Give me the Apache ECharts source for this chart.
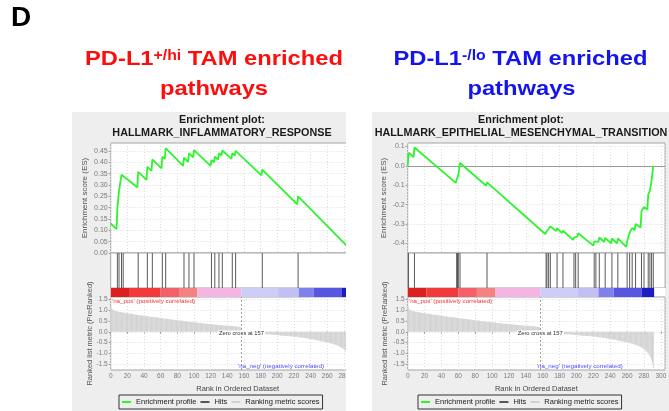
<!DOCTYPE html>
<html><head><meta charset="utf-8">
<script src="https://cdn.jsdelivr.net/npm/echarts@6/dist/echarts.min.js"></script>
<style>
html,body{margin:0;padding:0;background:#fff;width:669px;height:411px;overflow:hidden;}
#top{position:absolute;left:0;top:0;width:669px;height:112px;}
#leftWrap{position:absolute;left:72px;top:112px;width:274px;height:299px;overflow:hidden;}
#left{position:absolute;left:0;top:0;width:300px;height:299px;}
#right{position:absolute;left:372px;top:112px;width:297px;height:299px;}
</style></head><body>
<div id="top"></div><div id="leftWrap"><div id="left"></div></div><div id="right"></div>
<script>
const FONT = '"Liberation Sans", Arial, sans-serif';

// ---------- data ----------
const rankMax = 305;
const zeroCross = 157;
const metricScores = [
 1.18,1.08,1.03,1.00,0.98,0.96,0.95,0.94,0.93,0.92,
 0.91,0.90,0.90,0.89,0.88,0.88,0.87,0.87,0.86,0.85,
 0.85,0.84,0.83,0.83,0.82,0.82,0.81,0.80,0.80,0.79,
 0.78,0.78,0.77,0.77,0.76,0.75,0.75,0.74,0.74,0.73,
 0.73,0.72,0.72,0.71,0.71,0.70,0.70,0.69,0.69,0.68,
 0.68,0.67,0.67,0.66,0.66,0.65,0.65,0.64,0.64,0.63,
 0.63,0.62,0.62,0.61,0.61,0.60,0.60,0.59,0.59,0.58,
 0.58,0.57,0.57,0.56,0.56,0.55,0.55,0.54,0.54,0.53,
 0.53,0.52,0.52,0.51,0.51,0.50,0.50,0.49,0.49,0.48,
 0.48,0.47,0.47,0.46,0.46,0.45,0.45,0.44,0.44,0.44,
 0.43,0.43,0.42,0.42,0.41,0.41,0.40,0.40,0.40,0.39,
 0.39,0.38,0.38,0.37,0.37,0.37,0.36,0.36,0.35,0.35,
 0.35,0.34,0.34,0.33,0.33,0.33,0.32,0.32,0.32,0.31,
 0.31,0.31,0.30,0.30,0.30,0.29,0.29,0.29,0.28,0.28,
 0.28,0.27,0.27,0.27,0.26,0.26,0.26,0.25,0.25,0.25,
 0.24,0.24,0.24,0.23,0.23,0.22,0.22,
 -0.02,-0.02,-0.03,-0.03,-0.03,-0.04,-0.04,-0.04,-0.05,-0.05,
 -0.05,-0.06,-0.06,-0.06,-0.07,-0.07,-0.07,-0.07,-0.08,-0.08,
 -0.08,-0.08,-0.09,-0.09,-0.09,-0.09,-0.10,-0.10,-0.10,-0.11,
 -0.11,-0.11,-0.12,-0.12,-0.12,-0.13,-0.13,-0.13,-0.14,-0.14,
 -0.14,-0.15,-0.15,-0.15,-0.16,-0.16,-0.16,-0.17,-0.17,-0.17,
 -0.18,-0.18,-0.18,-0.19,-0.19,-0.19,-0.20,-0.20,-0.20,-0.21,
 -0.21,-0.21,-0.22,-0.22,-0.22,-0.23,-0.23,-0.23,-0.24,-0.24,
 -0.25,-0.25,-0.26,-0.26,-0.27,-0.28,-0.28,-0.29,-0.30,-0.30,
 -0.31,-0.32,-0.32,-0.33,-0.34,-0.34,-0.35,-0.36,-0.37,-0.37,
 -0.38,-0.39,-0.40,-0.40,-0.41,-0.42,-0.43,-0.44,-0.45,-0.46,
 -0.46,-0.47,-0.48,-0.49,-0.50,-0.51,-0.52,-0.53,-0.54,-0.55,
 -0.56,-0.57,-0.59,-0.60,-0.61,-0.63,-0.64,-0.66,-0.68,-0.70,
 -0.72,-0.74,-0.77,-0.80,-0.83,-0.86,-0.90,-0.94,-0.99,-1.04,
 -1.10,-1.18,-1.28,-1.42,-1.65
];
const bandStarts = [0,22,60,82,104,157,201,226,244,277];
const bandEnds   = [22,60,82,104,157,201,226,244,277,292];
const bandColors = ['#dc2020','#f23a3a','#f4606a','#f48282','#f5b5e2','#cdcef7','#c0c0f4','#8080ec','#5656e2','#1c1cc4'];

const leftHits = [8,10,13,15,33,44,50,62,66,88,94,100,121,125,130,134,146,150,182,225];
const leftES = [
 [0,0.13],[7,0.105],[8,0.195],[9,0.19],[10,0.275],[12,0.27],[13,0.345],[14,0.342],[15,0.352],
 [32,0.29],[33,0.358],[43,0.322],[44,0.38],[49,0.362],[50,0.413],
 [61,0.373],[62,0.425],[65,0.415],[66,0.462],
 [87,0.384],[88,0.42],[93,0.402],[94,0.44],[99,0.422],[100,0.454],
 [120,0.384],[121,0.41],[124,0.40],[125,0.425],[129,0.412],[130,0.44],[133,0.43],[134,0.452],
 [145,0.415],[146,0.44],[149,0.43],[150,0.45],
 [181,0.342],[182,0.368],[224,0.214],[225,0.25],[291,0.004]
];
const leftESTicks = [0,0.05,0.10,0.15,0.20,0.25,0.30,0.35,0.40,0.45];

const rightHits = [1,8,58,59,60,62,94,164,165,167,169,177,184,197,199,202,221,223,227,234,242,249,260,263,266,270,277,280,285,287,289,291];
const rightES = [
 [0,0.0],[1,0.068],[7,0.046],[8,0.095],
 [57,-0.088],[58,-0.072],[59,-0.06],[60,-0.045],[61,-0.048],[62,0.015],
 [93,-0.103],[94,-0.085],
 [163,-0.352],[164,-0.342],[165,-0.336],[166,-0.34],[167,-0.325],[168,-0.328],[169,-0.313],
 [176,-0.336],[177,-0.322],[183,-0.347],[184,-0.335],
 [196,-0.382],[197,-0.37],[198,-0.373],[199,-0.36],[201,-0.366],[202,-0.348],
 [220,-0.412],[221,-0.39],[222,-0.394],[223,-0.382],[226,-0.393],[227,-0.37],
 [233,-0.393],[234,-0.372],[241,-0.4],[242,-0.375],[248,-0.4],[249,-0.375],
 [259,-0.418],[260,-0.39],[262,-0.398],[263,-0.345],[265,-0.352],[266,-0.32],[269,-0.332],[270,-0.3],
 [276,-0.318],[277,-0.235],[279,-0.242],[280,-0.212],
 [284,-0.226],[285,-0.148],[286,-0.152],[287,-0.128],[288,-0.132],[289,-0.075],[290,-0.078],[291,0.0]
];
const rightESTicks = [-0.4,-0.3,-0.2,-0.1,0,0.1];
const metricTicks = [-1.5,-1.0,-0.5,0,0.5,1.0,1.5];

// ---------- panel builder ----------
function buildPanel(cfg) {
  const X0 = cfg.gridLeft, W = cfg.gridWidth;
  const gb = {show:true, backgroundColor:'#fff', borderColor:'#a3a3a3', borderWidth:1, outerBoundsMode:'none', containLabel:false};
  const grid = [
    Object.assign({left:X0, top:31, width:W, height:110}, gb),
    Object.assign({left:X0, top:141, width:W, height:35}, gb),
    Object.assign({left:X0, top:176, width:W, height:9}, gb, {borderWidth:0}),
    Object.assign({left:X0, top:185, width:W, height:73}, gb)
  ];
  const tickLabel = {fontSize:7, color:'#7a7a7a', fontFamily:FONT};
  const dotted = {color:'#dcdcdc', type:[1,2], width:1};
  const xAxis = [0,1,2,3].map(i => ({
    type:'value', gridIndex:i, min:0, max:rankMax, interval:20,
    axisLine:{show:false},
    axisTick:{show:i===3, length:2, lineStyle:{color:'#999'}},
    axisLabel:Object.assign({show:i===3, margin:3, showMaxLabel:false}, tickLabel, {fontSize:6.5}),
    splitLine:{show:i===0||i===3, lineStyle:dotted},
    name: i===3 ? 'Rank in Ordered Dataset' : '',
    nameLocation:'middle', nameGap:15, nameMoveOverlap:false,
    nameTextStyle:{fontSize:7.5, color:'#444', fontFamily:FONT}
  }));
  const yAxis = [
    {type:'value', gridIndex:0, min:cfg.esMin, max:cfg.esMax, axisLine:{show:false}, splitLine:{show:false},
     axisTick:{show:true, length:2, customValues:cfg.esTicks, lineStyle:{color:'#999'}},
     axisLabel:Object.assign({customValues:cfg.esTicks, margin:3, formatter:v=>Number(v).toFixed(cfg.esDigits)}, tickLabel),
     name:'Enrichment score (ES)', nameLocation:'middle', nameGap:cfg.esNameGap, nameRotate:90, nameMoveOverlap:false,
     nameTextStyle:{fontSize:8, color:'#555', fontFamily:FONT}},
    {type:'value', gridIndex:1, min:0, max:1, show:false},
    {type:'value', gridIndex:2, min:0, max:1, show:false},
    {type:'value', gridIndex:3, min:-1.75, max:1.59, axisLine:{show:false}, splitLine:{show:false},
     axisTick:{show:true, length:2, customValues:metricTicks, lineStyle:{color:'#999'}},
     axisLabel:Object.assign({customValues:metricTicks, margin:3, formatter:v=>Number(v).toFixed(1)}, tickLabel, {fontSize:6.5}),
     name:'Ranked list metric (PreRanked)', nameLocation:'middle', nameGap:cfg.metricNameGap, nameRotate:90, nameMoveOverlap:false,
     nameTextStyle:{fontSize:7.5, color:'#555', fontFamily:FONT}}
  ];
  const esLines = cfg.esTicks.map(v => ({yAxis:v, lineStyle:dotted}));
  if (cfg.zeroLine) esLines.push({yAxis:0, lineStyle:{color:'#9a9a9a', type:'solid', width:1}});
  const metricLines = metricTicks.map(v => ({yAxis:v, lineStyle:dotted}));
  metricLines.push({xAxis:zeroCross, lineStyle:{color:'#a0a0a0', type:[2,2], width:1}});

  const series = [
    {type:'line', name:'Enrichment profile', xAxisIndex:0, yAxisIndex:0, data:cfg.es, symbol:'none', showSymbol:false,
     lineStyle:{color:'#2df52d', width:1.8}, clip:true, z:5,
     markLine:{silent:true, symbol:'none', label:{show:false}, emphasis:{disabled:true}, data:esLines, z:1}},
    {type:'custom', name:'Hits', xAxisIndex:1, yAxisIndex:1, clip:true,
     data:cfg.hits.map(h => [h, 1]), encode:{x:0, y:1},
     renderItem:(params, api) => {
       const p0 = api.coord([api.value(0), 0]);
       const p1 = api.coord([api.value(0), 1]);
       return {type:'line', shape:{x1:p0[0], y1:p0[1], x2:p1[0], y2:p1[1]}, style:{stroke:'#5a5a5a', lineWidth:1}};
     }},
    {type:'custom', name:'band', xAxisIndex:2, yAxisIndex:2, clip:true,
     data:bandStarts.map((s, i) => [s, bandEnds[i], i]), encode:{x:[0,1]},
     renderItem:(params, api) => {
       const a = api.coord([api.value(0), 1]);
       const b = api.coord([api.value(1), 0]);
       return {type:'rect', shape:{x:a[0], y:a[1], width:b[0]-a[0], height:b[1]-a[1]}, style:{fill:bandColors[api.value(2)]}};
     }},
    {type:'bar', name:'Ranking metric scores', xAxisIndex:3, yAxisIndex:3, data:metricScores.map((v, i) => [i, v]),
     barWidth:1, itemStyle:{color:'#d2d2d2'}, clip:true,
     markLine:{silent:true, symbol:'none', label:{show:false}, emphasis:{disabled:true}, data:metricLines},
     markPoint:{silent:true, symbol:'circle', symbolSize:0, data:[
       {coord:[1.5, 1.38], label:{show:true, formatter:"'na_pos' (positively correlated)", position:'right', distance:0, color:'#f03030', fontSize:6.2, fontFamily:FONT}},
       {coord:[zeroCross, -0.08], label:{show:true, formatter:'Zero cross at ' + zeroCross, position:'inside', color:'#333', fontSize:5.8, fontFamily:FONT, backgroundColor:'#fff', padding:[0,1]}},
       {coord:[153, -1.56], label:{show:true, formatter:"'na_neg' (negatively correlated)", position:'right', distance:0, color:'#4b4bff', fontSize:6.2, fontFamily:FONT}}
     ]}}
  ];
  const txt = (t, x, y, size) => ({type:'text', x, y, silent:true, style:{text:t, fontSize:size, fontWeight:'bold', fontFamily:FONT, fill:'#1a1a1a', align:'center', verticalAlign:'middle', textAlign:'center', textVerticalAlign:'middle'}});
  return {
    animation:false, backgroundColor:'#eeeeee',
    grid, xAxis, yAxis, series,
    legend:{left:cfg.legendLeft, top:283, itemWidth:9, itemHeight:2, itemGap:4, padding:[3,3], borderColor:'#333', borderWidth:1,
      textStyle:{fontSize:7.5, color:'#222', fontFamily:FONT}, selectedMode:false,
      data:[{name:'Enrichment profile', icon:'rect', itemStyle:{color:'#2df52d'}},
            {name:'Hits', icon:'rect', itemStyle:{color:'#555'}},
            {name:'Ranking metric scores', icon:'rect', itemStyle:{color:'#d0d0d0'}}]},
    graphic:[txt('Enrichment plot:', cfg.titleCx, 7.8, 10.8), txt(cfg.title, cfg.titleCx, 21, 10.8)]
  };
}

const leftChart = echarts.init(document.getElementById('left'));
leftChart.setOption(buildPanel({
  gridLeft:38.7, gridWidth:254, es:leftES, hits:leftHits, esTicks:leftESTicks, esMin:0, esMax:0.485, esDigits:2,
  esNameGap:22, metricNameGap:17, zeroLine:false, legendLeft:47, titleCx:150, title:'HALLMARK_INFLAMMATORY_RESPONSE'
}));
const rightChart = echarts.init(document.getElementById('right'));
rightChart.setOption(buildPanel({
  gridLeft:35.7, gridWidth:257.4, es:rightES, hits:rightHits, esTicks:rightESTicks, esMin:-0.45, esMax:0.118, esDigits:1,
  esNameGap:20, metricNameGap:18.5, zeroLine:true, legendLeft:46, titleCx:149, title:'HALLMARK_EPITHELIAL_MESENCHYMAL_TRANSITION'
}));

// ---------- top titles ----------
const measureCtx = document.createElement('canvas').getContext('2d');
function titleLine(parts, cx, cy, color, scaleX) {
  let x = 0; const children = [];
  parts.forEach(p => {
    measureCtx.font = 'bold ' + p.size + 'px "Liberation Sans"';
    const w = measureCtx.measureText(p.text).width;
    children.push({type:'text', x, y:p.dy, silent:true, style:{text:p.text, fontSize:p.size, fontWeight:'bold', fontFamily:FONT, fill:color,
      align:'left', verticalAlign:'middle', textAlign:'left', textVerticalAlign:'middle'}});
    x += w;
  });
  return {type:'group', x:cx - x * scaleX / 2, y:cy, scaleX, children};
}
const RED = '#ff0d0d', BLUE = '#1414ee';
const topChart = echarts.init(document.getElementById('top'));
topChart.setOption({
  animation:false, backgroundColor:'#fff',
  graphic:[
    {type:'text', x:11, y:18.3, silent:true, style:{text:'D', fontSize:28, fontWeight:'bold', fontFamily:FONT, fill:'#000', align:'left', verticalAlign:'middle', textAlign:'left', textVerticalAlign:'middle'}},
    titleLine([{text:'PD-L1', size:21, dy:0}, {text:'+/hi', size:14, dy:-4}, {text:' TAM enriched', size:21, dy:0}], 214, 59.7, RED, 1.13),
    titleLine([{text:'pathways', size:21, dy:0}], 214, 89.7, RED, 1.13),
    titleLine([{text:'PD-L1', size:21, dy:0}, {text:'-/lo', size:14, dy:-4}, {text:' TAM enriched', size:21, dy:0}], 520.5, 59.7, BLUE, 1.13),
    titleLine([{text:'pathways', size:21, dy:0}], 521.5, 89.7, BLUE, 1.13)
  ]
});
</script>
</body></html>
